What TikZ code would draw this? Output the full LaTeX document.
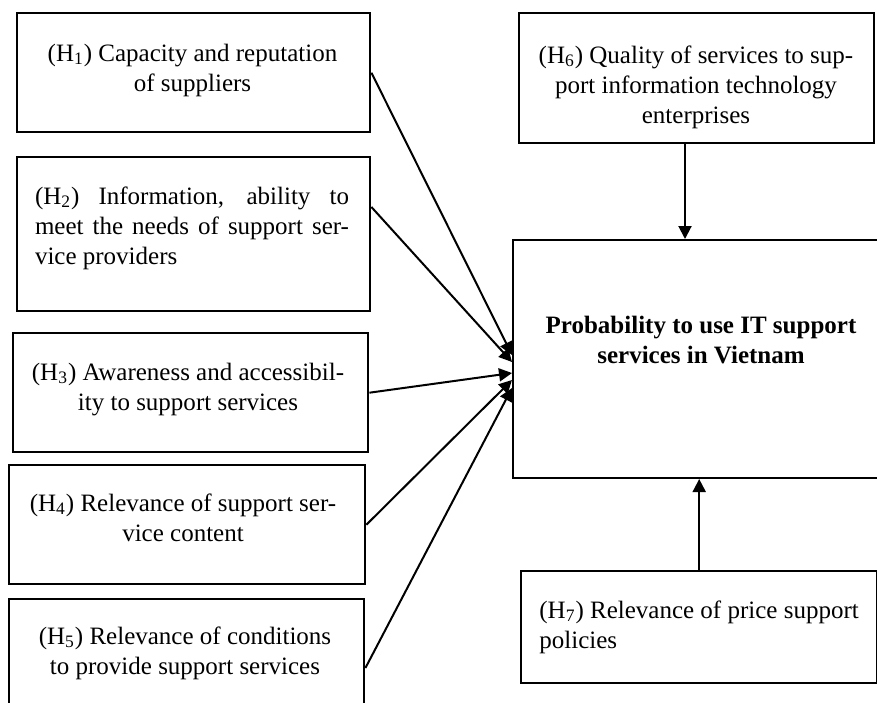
\documentclass[tikz,border=0pt]{standalone}
\usepackage{fontspec}
\setmainfont{Liberation Serif}
\usetikzlibrary{arrows.meta,calc}
\begin{document}
\begin{tikzpicture}[x=0.5pt,y=-0.5pt,
  box/.style={draw, line width=1.2pt, inner sep=0pt, anchor=north west},
  mainbox/.style={draw, line width=1pt, inner sep=0pt, anchor=north west},
  txt/.style={inner sep=0pt, anchor=base, align=center, font=\fontsize{12.5}{15}\selectfont},
  arr/.style={-{Triangle[length=6.5pt,width=6.5pt]}, line width=1pt}
]
\useasboundingbox (0,0) rectangle (877,702);
\clip (0,0) rectangle (877,702);
% boxes
\node[box, minimum width=176.5pt, minimum height=59.5pt] (h1) at (16,12) {};
\node[box, minimum width=176.5pt, minimum height=77pt] (h2) at (16,156) {};
\node[box, minimum width=177.5pt, minimum height=59.5pt] (h3) at (12,332) {};
\node[box, minimum width=178pt, minimum height=59.5pt] (h4) at (8,464) {};
\node[box, minimum width=177.5pt, minimum height=60pt] (h5) at (8,598) {};
\node[box, minimum width=177.5pt, minimum height=65pt] (h6) at (518,12) {};
\node[mainbox, minimum width=200pt, minimum height=119pt] (main) at (512,239) {};
\node[box, minimum width=178pt, minimum height=56pt] (h7) at (520,570) {};
% texts (base = last line for align nodes)
\node[txt] (t1) at (192.5,91) {(H\textsubscript{1}) Capacity and reputation\\of suppliers};
\node[txt, text width=157pt, align=justify] (t2) at (192,204) {(H\textsubscript{2}) Information, ability to\linebreak meet the needs of support ser-\linebreak vice providers};
\node[txt] (t3) at (188,410) {(H\textsubscript{3}) Awareness and accessibil-\\ity to support services};
\node[txt] (t4) at (183,541) {(H\textsubscript{4}) Relevance of support ser-\\vice content};
\node[txt] (t5) at (185,674) {(H\textsubscript{5}) Relevance of conditions\\to provide support services};
\node[txt] (t6) at (696,123) {(H\textsubscript{6}) Quality of services to sup-\\port information technology\\enterprises};
\node[txt, anchor=base west, align=left] (t7) at (539,648) {(H\textsubscript{7}) Relevance of price support\\policies};
\node[txt, font=\fontsize{12.5}{15}\selectfont\bfseries] (tm) at (701,363) {Probability to use IT support\\services in Vietnam};
% arrows
\draw[arr] (h1.east) -- ($(main.north west)+(0,116)$);
\draw[arr] ($(h2.north east)+(0,51)$) -- ($(main.north west)+(0,123)$);
\draw[arr] (h3.east) -- ($(main.north west)+(0,134)$);
\draw[arr] (h4.east) -- ($(main.north west)+(0,141)$);
\draw[arr] ($(h5.north east)+(0,70)$) -- ($(main.north west)+(0,149)$);
\draw[arr] ($(h6.south west)+(167,0)$) -- ($(main.north west)+(173,0)$);
\draw[arr] (h7.north) -- (h7.north |- main.south);
\end{tikzpicture}
\end{document}
